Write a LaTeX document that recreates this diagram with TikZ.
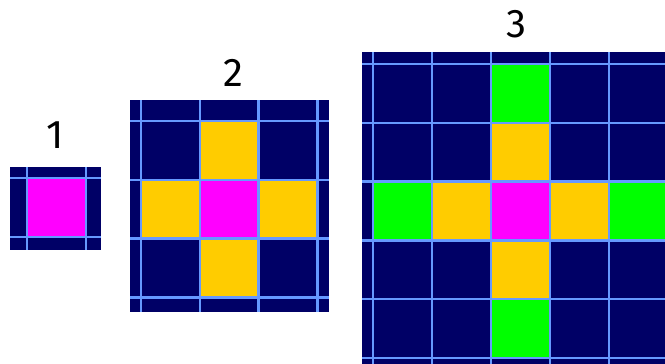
\documentclass[tikz,border=0pt]{standalone}
\usepackage{fontspec}
\setmainfont{Fira Sans}
\usepackage{xcolor}
\definecolor{gridnavy}{RGB}{0,0,102}
\definecolor{gridline}{RGB}{102,153,255}
\definecolor{cellmagenta}{RGB}{255,0,255}
\definecolor{cellyellow}{RGB}{255,204,0}
\definecolor{cellgreen}{RGB}{0,255,0}
\usepackage{tikz}
\usetikzlibrary{positioning}

\tikzset{
  gridlabel/.style={font=\fontsize{40}{44}\selectfont, inner sep=0pt, anchor=center},
  gridrule/.style={draw=gridline, line width=2.4pt}
}

\begin{document}
\begin{tikzpicture}[x=1pt, y=-1pt]
  \useasboundingbox (0,0) rectangle (665,364);
  \clip (0,0) rectangle (665,364);

  % Grid 1 -- single cell
  \fill[gridnavy] (10,167) rectangle (101,250);
  \fill[cellmagenta] (27,178) rectangle (86,237);
  \foreach \x in {27,86} \draw[gridrule] (\x,167) -- (\x,250);
  \foreach \y in {178,237} \draw[gridrule] (10,\y) -- (101,\y);
  \node[gridlabel] (label1) at (55,135) {1};

  % Grid 2 -- cross of radius 1
  \fill[gridnavy] (130,100) rectangle (329,312);
  \foreach \c/\r/\col in {1/0/cellyellow, 0/1/cellyellow, 1/1/cellmagenta,
                          2/1/cellyellow, 1/2/cellyellow}
    \fill[\col] (141+58.8*\c,121+58.8*\r) rectangle ++(58.8,58.8);
  \foreach \k in {0,...,3} {
    \draw[gridrule] (141+58.8*\k,100) -- (141+58.8*\k,312);
    \draw[gridrule] (130,121+58.8*\k) -- (329,121+58.8*\k);
  }
  \node[gridlabel] (label2) at (233,73) {2};

  % Grid 3 -- cross of radius 2 (cut off at the right and bottom)
  \fill[gridnavy] (362,52) rectangle (665,364);
  \foreach \c/\r/\col in {2/0/cellgreen, 2/1/cellyellow,
                          0/2/cellgreen, 1/2/cellyellow, 2/2/cellmagenta,
                          3/2/cellyellow, 4/2/cellgreen,
                          2/3/cellyellow, 2/4/cellgreen}
    \fill[\col] (373+59*\c,64+58.8*\r) rectangle ++(59,58.8);
  \foreach \k in {0,...,4}
    \draw[gridrule] (373+59*\k,52) -- (373+59*\k,364);
  \foreach \k in {0,...,5}
    \draw[gridrule] (362,64+58.8*\k) -- (665,64+58.8*\k);
  \node[gridlabel] (label3) at (516,24) {3};
\end{tikzpicture}
\end{document}
